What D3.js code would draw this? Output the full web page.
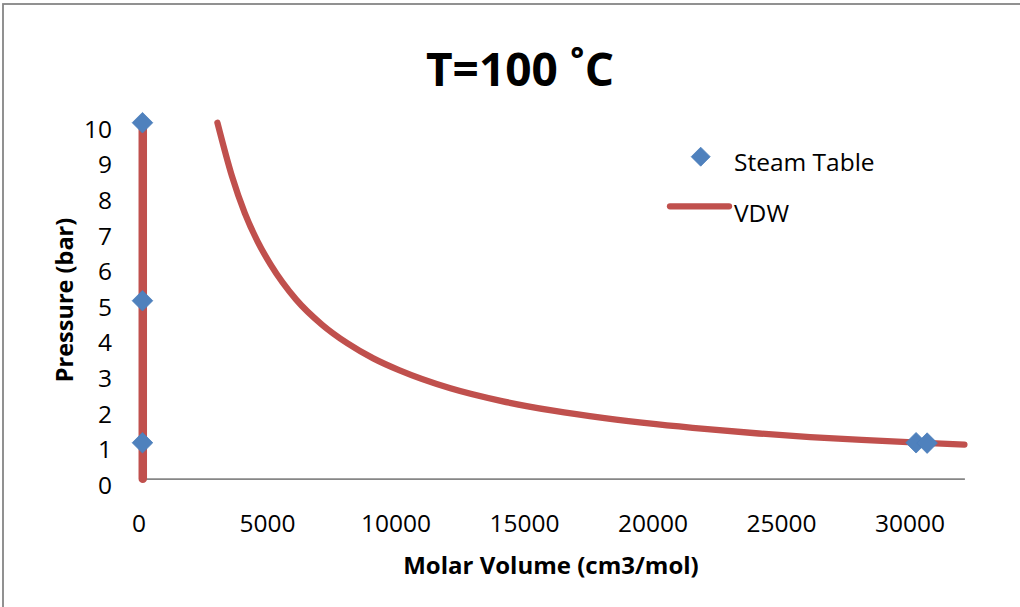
<!DOCTYPE html>
<html>
<head>
<meta charset="utf-8">
<script src="https://cdn.jsdelivr.net/npm/d3@7"></script>
<style>
  html, body { margin: 0; padding: 0; background: #fff; }
  svg { display: block; font-family: "Open Sans", "DejaVu Sans", sans-serif; }
</style>
</head>
<body>
<svg id="chart" width="1020" height="607"></svg>
<script>
// ---- data ----
const chartTitle = "T=100 \u02DAC";
const xTitle = "Molar Volume (cm3/mol)";
const yTitle = "Pressure (bar)";
const xTicks = [0, 5000, 10000, 15000, 20000, 25000, 30000];
const yTicks = [0, 1, 2, 3, 4, 5, 6, 7, 8, 9, 10];

// Steam table points (molar volume cm3/mol, pressure bar)
const steamV = [18.8, 18.8, 18.8, 30120, 30550];
const steamP = [10, 5, 1.01, 1.01, 1.0];

// VDW liquid branch (vertical) and vapour branch
const vdwLiqV = [30, 30];
const vdwLiqP = [0, 10];
const vdwVapV = [2935, 3500, 4000, 4500, 5000, 6000, 7000, 8000, 9000, 10000, 12000, 14000, 16000, 18000, 20000, 22000, 24000, 26000, 28000, 30000, 32000];
const vdwVapP = [10.0, 8.5, 7.46, 6.66, 6.02, 5.03, 4.33, 3.8, 3.38, 3.05, 2.54, 2.18, 1.91, 1.7, 1.53, 1.39, 1.27, 1.17, 1.09, 1.02, 0.96];

const legendLabels = ["Steam Table", "VDW"];

// ---- drawing ----
const red = "#C0504D", blue = "#4F81BD", axisGray = "#868686";
const svg = d3.select("#chart");

// outer frame
svg.append("rect").attr("x", 3).attr("y", 4).attr("width", 1040).attr("height", 640)
  .attr("fill", "#fff").attr("stroke", axisGray).attr("stroke-width", 1.8);

const x = d3.scaleLinear().domain([0, 32000]).range([142, 964.4]);
const y = d3.scaleLinear().domain([0, 10]).range([478.7, 122.7]);

// x axis
const gx = svg.append("g").attr("transform", `translate(0,${y(0)})`)
  .call(d3.axisBottom(x).tickValues(xTicks).tickSize(0).tickFormat(d3.format("d")));
gx.select(".domain").attr("stroke", axisGray).attr("stroke-width", 1.8);
gx.selectAll("text").attr("y", 53).attr("dy", 0).attr("dx", -3.5)
  .attr("font-size", 24.5).attr("font-family", "Open Sans").attr("fill", "#000");

// y axis
const gy = svg.append("g").attr("transform", `translate(${x(0)},0)`)
  .call(d3.axisLeft(y).tickValues(yTicks).tickSize(0).tickFormat(d3.format("d")));
gy.select(".domain").attr("stroke", axisGray).attr("stroke-width", 1.8);
gy.selectAll("text").attr("x", 112 - x(0)).attr("dy", 0).attr("y", 14.6)
  .attr("font-size", 24.5).attr("font-family", "Open Sans").attr("fill", "#000");

// VDW lines
const liq = vdwLiqV.map((v, i) => [v, vdwLiqP[i]]);
const vap = vdwVapV.map((v, i) => [v, vdwVapP[i]]);
const line = d3.line().x(d => x(d[0])).y(d => y(d[1])).curve(d3.curveMonotoneX);
svg.append("path").datum(liq).attr("d", d3.line().x(d => x(d[0])).y(d => y(d[1])))
  .attr("fill", "none").attr("stroke", red).attr("stroke-width", 8.5).attr("stroke-linecap", "round");
svg.append("path").datum(vap).attr("d", line)
  .attr("fill", "none").attr("stroke", red).attr("stroke-width", 6.3).attr("stroke-linecap", "round");

// steam table diamonds
const diamond = (cx, cy, r) => `M${cx},${cy - r}L${cx + r},${cy}L${cx},${cy + r}L${cx - r},${cy}Z`;
svg.append("g").selectAll("path").data(steamV.map((v, i) => [v, steamP[i]])).join("path")
  .attr("d", d => diamond(x(d[0]), y(d[1]), 10.3))
  .attr("fill", blue).attr("stroke", "#4A7EBB").attr("stroke-width", 0.8);

// title
svg.append("text").attr("x", 520).attr("y", 86).attr("text-anchor", "middle")
  .attr("font-size", 46).attr("font-weight", "bold").attr("fill", "#000").text(chartTitle);

// axis titles
svg.append("text").attr("x", 551).attr("y", 574).attr("text-anchor", "middle")
  .attr("font-size", 24).attr("font-weight", "bold").attr("fill", "#000").text(xTitle);
svg.append("text").attr("transform", "translate(73.3,300) rotate(-90)").attr("text-anchor", "middle")
  .attr("font-size", 23.5).attr("font-weight", "bold").attr("fill", "#000").text(yTitle);

// legend
const lg = svg.append("g");
lg.append("path").attr("d", diamond(700.7, 156.7, 9.5)).attr("fill", blue).attr("stroke", "#4A7EBB").attr("stroke-width", 0.8);
lg.append("text").attr("x", 734).attr("y", 170.7).attr("font-size", 24.5).attr("fill", "#000").text(legendLabels[0]);
lg.append("line").attr("x1", 670).attr("x2", 729).attr("y1", 206.3).attr("y2", 206.3)
  .attr("stroke", red).attr("stroke-width", 6.3).attr("stroke-linecap", "round");
lg.append("text").attr("x", 734).attr("y", 221.7).attr("font-size", 24.5).attr("fill", "#000").text(legendLabels[1]);
</script>
</body>
</html>
